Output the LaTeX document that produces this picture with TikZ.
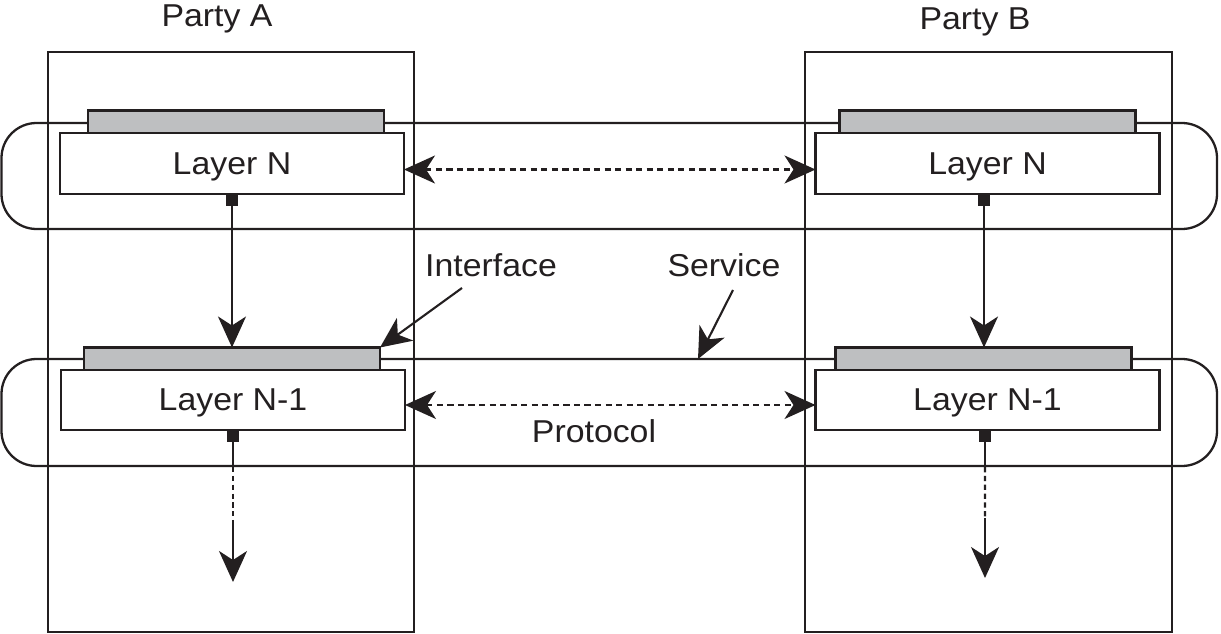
\documentclass[tikz,border=0pt]{standalone}
\usepackage{fontspec}
\setmainfont{Liberation Sans}[FakeStretch=1.07]
\usetikzlibrary{arrows.meta,positioning}
\definecolor{barGray}{RGB}{190,191,193}
\definecolor{ink}{RGB}{35,31,32}
\begin{document}
\begin{tikzpicture}[
  line width=1.3pt, draw=ink,
  every node/.style={font=\fontsize{18}{22}\selectfont, text=ink},
  party/.style={draw, minimum width=7.32cm, minimum height=11.6cm, inner sep=0pt},
  band/.style={draw, rounded corners=0.7cm, minimum width=24.31cm, minimum height=2.12cm, inner sep=0pt},
  layer/.style={draw, fill=white, minimum width=6.88cm, minimum height=1.22cm, inner sep=0pt, outer sep=0pt, text depth=0pt},
  bar/.style={draw, fill=barGray, minimum width=5.92cm, minimum height=0.45cm, inner sep=0pt, outer sep=0pt},
  port/.style={fill=ink, minimum size=0.24cm, inner sep=0pt, outer sep=0pt},
  flow/.style={line width=1.2pt, -{Stealth[length=6.2mm,width=5.6mm,inset=1.8mm]}},
  peer/.style={line width=1.2pt, {Stealth[length=6.2mm,width=5.6mm,inset=1.8mm]}-{Stealth[length=6.2mm,width=5.6mm,inset=1.8mm]}, dash pattern=on 3.5pt off 2.5pt},
  gap/.style={line width=1.2pt, dash pattern=on 3pt off 2pt}
]
\useasboundingbox (0,0) rectangle (24.42,12.66);

\node[party] (partyA) at (4.62,5.82) {};
\node[party, minimum width=7.34cm] (partyB) at (19.77,5.82) {};
\node[anchor=base] (partyAlabel) at (4.34,12.12) {Party A};
\node[anchor=base] (partyBlabel) at (19.50,12.08) {Party B};

\node[band] (bandTop) at (12.185,9.14) {};
\node[band, minimum height=2.14cm] (bandLow) at (12.185,4.41) {};

\node[layer] (layerNA) at (4.64,9.39) {Layer N};
\node[layer] (layerNB) at (19.75,9.39) {Layer N};
\node[layer, minimum height=1.2cm] (layerMA) at (4.66,4.66) {Layer N-1};
\node[layer, minimum height=1.2cm] (layerMB) at (19.75,4.66) {Layer N-1};

\node[bar, above=0pt of layerNA.north, xshift=0.08cm] (barNA) {};
\node[bar, above=0pt of layerNB.north] (barNB) {};
\node[bar, above=0pt of layerMA.north, xshift=-0.02cm] (barMA) {};
\node[bar, above=0pt of layerMB.north, xshift=-0.08cm] (barMB) {};

\node[port, below=0pt of layerNA.south] (portNA) {};
\node[port, below=0pt of layerNB.south, xshift=-0.07cm] (portNB) {};
\node[port, below=0pt of layerMA.south] (portMA) {};
\node[port, below=0pt of layerMB.south, xshift=-0.05cm] (portMB) {};

\draw[flow] (portNA.south) -- (portNA.south |- barMA.north);
\draw[flow] (portNB.south) -- (portNB.south |- barMB.north);
\draw[peer] ([yshift=-0.12cm]layerNA.east) -- ([yshift=-0.12cm]layerNB.west);
\draw[peer] ([yshift=-0.1cm]layerMA.east) -- ([yshift=-0.1cm]layerMB.west);

\coordinate (gapA) at (4.66,2.26);
\coordinate (downA) at (4.66,1.02);
\coordinate (gapB) at (19.70,2.30);
\coordinate (downB) at (19.70,1.10);
\draw[line width=1.2pt] (portMA.south) -- (portMA.south |- bandLow.south);
\draw[gap] (portMA.south |- bandLow.south) -- (gapA);
\draw[flow] (gapA) -- (downA);
\draw[line width=1.2pt] (portMB.south) -- (portMB.south |- bandLow.south);
\draw[gap] (portMB.south |- bandLow.south) -- (gapB);
\draw[flow] (gapB) -- (downB);

\node[anchor=base] (ifLabel) at (9.82,7.14) {Interface};
\node[anchor=base] (svLabel) at (14.48,7.14) {Service};
\node[anchor=base] (protoLabel) at (11.88,3.82) {Protocol};

\coordinate (ifTail) at (9.24,6.90);
\coordinate (svTail) at (14.66,6.86);
\coordinate (svHead) at (13.96,5.48);
\draw[flow] (ifTail) -- (barMA.north east);
\draw[flow] (svTail) -- (svHead);

\end{tikzpicture}
\end{document}
